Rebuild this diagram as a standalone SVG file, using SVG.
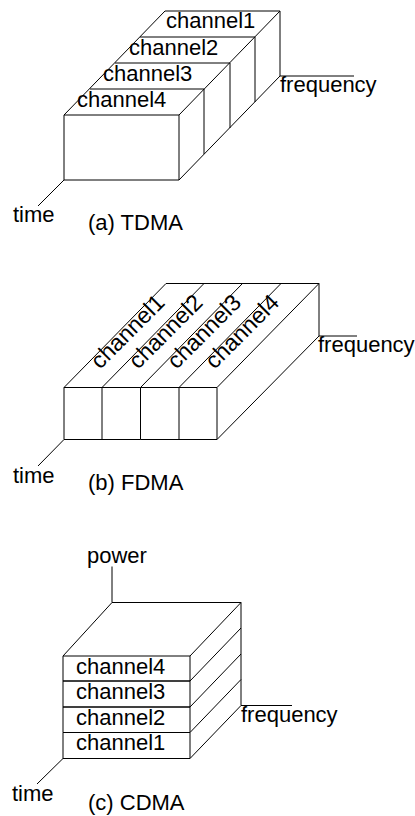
<svg xmlns="http://www.w3.org/2000/svg" width="415" height="816" viewBox="0 0 415 816">
<style>
.l{fill:none;stroke:#000;stroke-width:1}
text{font-family:"Liberation Sans",Arial,sans-serif;font-size:22px;fill:#000}
text.r{font-size:23px}
</style>
<rect width="415" height="816" fill="#fff"/>
<!-- (a) TDMA -->
<g id="tdma">
  <g id="tdma-ch1"><path class="l" d="M165,11 H280 M255,37 V102 M280,11 V76"/><text x="166" y="28">channel1</text></g>
  <g id="tdma-ch2"><path class="l" d="M140,37 H255 M230,63 V128"/><text x="129" y="55">channel2</text></g>
  <g id="tdma-ch3"><path class="l" d="M115,63 H230 M204,89 V154"/><text x="103" y="81">channel3</text></g>
  <g id="tdma-ch4"><path class="l" d="M90,89 H204 M64,115 H179 V180 H64 Z"/><text x="77" y="106.5">channel4</text></g>
  <g id="tdma-edges"><path class="l" d="M64,115 L165,11 M179,115 L280,11 M179,180 L280,76"/></g>
  <g id="tdma-axes">
    <path class="l" d="M280,76 H354 M64,180 L38,206"/>
    <text x="280" y="91.5">frequency</text>
    <text x="13" y="222">time</text>
    <text x="88" y="229.5">(a) TDMA</text>
  </g>
</g>
<!-- (b) FDMA -->
<g id="fdma">
  <g id="fdma-ch1"><path class="l" d="M64,387.5 H102 V439.5 H64 Z M64,387.5 L166,283.5"/><text class="r" x="100" y="370" transform="rotate(-45 100 370)">channel1</text></g>
  <g id="fdma-ch2"><path class="l" d="M102,387.5 H140.5 V439.5 H102 M102,387.5 L204,283.5"/><text class="r" x="138" y="370" transform="rotate(-45 138 370)">channel2</text></g>
  <g id="fdma-ch3"><path class="l" d="M140.5,387.5 H179 V439.5 H140.5 M140.5,387.5 L242.5,283.5"/><text class="r" x="176.5" y="370" transform="rotate(-45 176.5 370)">channel3</text></g>
  <g id="fdma-ch4"><path class="l" d="M179,387.5 H217 V439.5 H179 M179,387.5 L281,283.5 M217,387.5 L319,283.5"/><text class="r" x="214.5" y="370" transform="rotate(-45 214.5 370)">channel4</text></g>
  <g id="fdma-edges"><path class="l" d="M166,283.5 H319 V336 M217,439.5 L319,336"/></g>
  <g id="fdma-axes">
    <path class="l" d="M319,336 H357 M64,439.5 L38,466"/>
    <text x="318" y="351.5">frequency</text>
    <text x="13" y="482.5">time</text>
    <text x="88" y="490">(b) FDMA</text>
  </g>
</g>
<!-- (c) CDMA -->
<g id="cdma">
  <g id="cdma-ch4"><path class="l" d="M63,656 H190 V681 H63 Z M190,681 L241,628"/><text x="76" y="673.5">channel4</text></g>
  <g id="cdma-ch3"><path class="l" d="M63,681 H190 V707 H63 Z M190,707 L241,654"/><text x="76" y="699">channel3</text></g>
  <g id="cdma-ch2"><path class="l" d="M63,707 H190 V732.5 H63 Z M190,732.5 L241,679.5"/><text x="76" y="724.5">channel2</text></g>
  <g id="cdma-ch1"><path class="l" d="M63,732.5 H190 V758.5 H63 Z M190,758.5 L241,705.5"/><text x="76" y="750">channel1</text></g>
  <g id="cdma-edges"><path class="l" d="M63,656 L112,602.5 H241 V705.5 M190,656 L241,602.5"/></g>
  <g id="cdma-axes">
    <path class="l" d="M112,602.5 V566.5 M241,705.5 H292 M63,758.5 L37,784"/>
    <text x="87" y="563">power</text>
    <text x="241" y="722">frequency</text>
    <text x="12" y="801">time</text>
    <text x="88" y="810">(c) CDMA</text>
  </g>
</g>
</svg>
